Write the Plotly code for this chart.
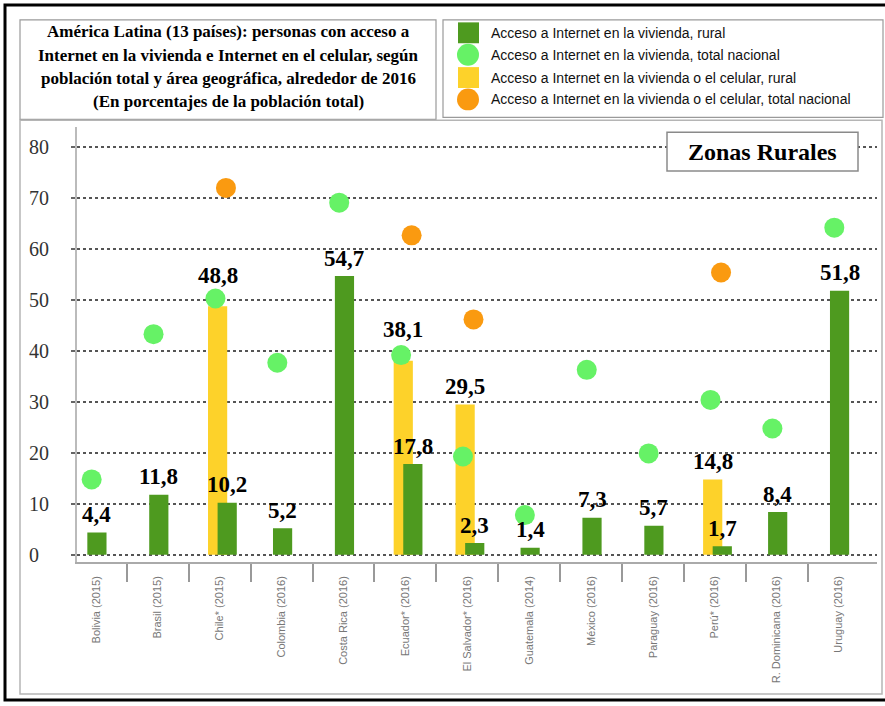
import plotly.graph_objects as go

# ---------------- data ----------------
countries = ["Bolivia (2015)", "Brasil (2015)", "Chile* (2015)", "Colombia (2016)",
             "Costa Rica (2016)", "Ecuador* (2016)", "El Salvador* (2016)",
             "Guatemala (2014)", "México (2016)", "Paraguay (2016)", "Perú* (2016)",
             "R. Dominicana (2016)", "Uruguay (2016)"]
rural_home = [4.4, 11.8, 10.2, 5.2, 54.7, 17.8, 2.3, 1.4, 7.3, 5.7, 1.7, 8.4, 51.8]
rural_home_mobile = [None, None, 48.8, None, None, 38.1, 29.5, None, None, None, 14.8, None, None]
national_home = [14.8, 43.3, 50.3, 37.7, 69.1, 39.2, 19.3, 7.8, 36.3, 19.9, 30.4, 24.8, 64.2]
national_home_mobile = [None, None, 72.0, None, None, 62.7, 46.2, None, None, None, 55.4, None, None]

series_names = ["Acceso a Internet en la vivienda, rural",
                "Acceso a Internet en la vivienda, total nacional",
                "Acceso a Internet en la vivienda o el celular, rural",
                "Acceso a Internet en la vivienda o el celular, total nacional"]
y_tick_values = [0, 10, 20, 30, 40, 50, 60, 70, 80]
y_tick_labels = ["0\u2007", "10", "20", "30", "40", "50", "60", "70", "80"]
title_lines = ["América Latina (13 países): personas con acceso a",
               "Internet en la vivienda e Internet en el celular, según",
               "población total y área geográfica, alrededor de 2016",
               "(En porcentajes de la población total)"]
panel_label = "Zonas Rurales"

# ---------------- style ----------------
W, H = 885, 706
C_GREEN_BAR = "#4E9A1F"
C_YELLOW = "#FDD22A"
C_LIGHT_GREEN = "#66F266"
C_ORANGE = "#FA9A10"
BAR_W = 0.31
SERIF = "Liberation Serif, Times New Roman, serif"
SANS = "Liberation Sans, Arial, sans-serif"


def px(x):
    return x / W


def py(y):
    return 1 - y / H


xs = list(range(len(countries)))
has_pair = [v is not None for v in rural_home_mobile]
green_off = [-0.035 if p else -0.14 for p in has_pair]
yellow_off = [-0.19] * len(xs)

fig = go.Figure()

fig.add_trace(go.Bar(x=xs, y=rural_home_mobile, name=series_names[2], width=BAR_W,
                     offset=yellow_off, marker=dict(color=C_YELLOW, line=dict(width=0)),
                     showlegend=False))
fig.add_trace(go.Bar(x=xs, y=rural_home, name=series_names[0], width=BAR_W,
                     offset=green_off, marker=dict(color=C_GREEN_BAR, line=dict(width=0)),
                     showlegend=False))
fig.add_trace(go.Scatter(x=[i - 0.07 for i in xs], y=national_home, mode="markers",
                         name=series_names[1],
                         marker=dict(size=20, color=C_LIGHT_GREEN, line=dict(width=0)),
                         showlegend=False))
fig.add_trace(go.Scatter(x=[i + 0.1 for i in xs], y=national_home_mobile, mode="markers",
                         name=series_names[3],
                         marker=dict(size=20, color=C_ORANGE, line=dict(width=0)),
                         showlegend=False))

annotations = []


def fmt(v):
    return f"{v:.1f}".replace(".", ",")


for i in xs:
    circ = national_home[i]
    for vals, offs in ((rural_home_mobile, yellow_off), (rural_home, green_off)):
        v = vals[i]
        if v is None:
            continue
        raised = circ is not None and 0 <= circ - v <= 6
        annotations.append(dict(x=i + offs[i] + BAR_W / 2, y=v, xref="x", yref="y",
                                text=f"<b>{fmt(v)}</b>", showarrow=False, yanchor="middle",
                                yshift=31 if raised else 18,
                                font=dict(family=SERIF, size=23, color="#000")))

# title lines
for k, line in enumerate(title_lines):
    annotations.append(dict(x=px(228), y=py(32 + k * 23.5), xref="paper", yref="paper",
                            text=f"<b>{line}</b>", showarrow=False,
                            xanchor="center", yanchor="middle",
                            font=dict(family=SERIF, size=17, color="#000")))

# legend (manual)
leg_rows = [33, 55, 78, 100]
leg_kind = ["square", "circle", "square", "circle"]
leg_color = [C_GREEN_BAR, C_LIGHT_GREEN, C_YELLOW, C_ORANGE]
shapes = []
for yy, kind, col, name in zip(leg_rows, leg_kind, leg_color, series_names):
    if kind == "square":
        shapes.append(dict(type="rect", xref="paper", yref="paper",
                           x0=px(458), x1=px(479), y0=py(yy - 10.5), y1=py(yy + 10.5),
                           fillcolor=col, line=dict(width=0)))
    else:
        shapes.append(dict(type="circle", xref="paper", yref="paper",
                           x0=px(457), x1=px(479), y0=py(yy - 11), y1=py(yy + 11),
                           fillcolor=col, line=dict(width=0)))
    annotations.append(dict(x=px(489), y=py(yy), xref="paper", yref="paper",
                            text=name, showarrow=False, xanchor="left", yanchor="middle",
                            font=dict(family=SANS, size=14, color="#111")))

# frames
GRAY = "#9a9a9a"
shapes += [
    dict(type="rect", xref="paper", yref="paper", x0=px(20), x1=px(436), y0=py(20), y1=py(120),
         line=dict(color=GRAY, width=1.2), layer="below"),
    dict(type="rect", xref="paper", yref="paper", x0=px(443), x1=px(883), y0=py(20), y1=py(118),
         line=dict(color=GRAY, width=1.2), layer="below"),
    dict(type="rect", xref="paper", yref="paper", x0=px(20), x1=px(882), y0=py(121), y1=py(698),
         line=dict(color="#b5b5b5", width=1.5), layer="below"),
    dict(type="rect", xref="paper", yref="paper", x0=px(5), x1=px(887), y0=py(5), y1=py(704),
         line=dict(color="#000", width=3)),
    dict(type="rect", xref="paper", yref="paper", x0=px(667), x1=px(858), y0=py(133), y1=py(172),
         line=dict(color="#8a8a8a", width=1.5), fillcolor="#fff"),
]
annotations.append(dict(x=px(762), y=py(153), xref="paper", yref="paper",
                        text=f"<b>{panel_label}</b>", showarrow=False,
                        xanchor="center", yanchor="middle",
                        font=dict(family=SERIF, size=24, color="#000")))

fig.update_layout(
    width=W, height=H, autosize=False,
    margin=dict(l=0, r=0, t=0, b=0),
    paper_bgcolor="#fff", plot_bgcolor="#fff",
    barmode="overlay",
    shapes=shapes, annotations=annotations,
    xaxis=dict(domain=[px(77), px(877)], range=[-0.307, 12.62],
               tickmode="array", tickvals=xs, ticktext=countries, tickangle=-90,
               ticks="", ticklabelstandoff=8,
               tickfont=dict(family=SANS, size=11, color="#777"),
               showline=True, linecolor="#aaa", linewidth=2,
               showgrid=False, zeroline=False,
               minor=dict(tickmode="array", tickvals=[i + 0.5 for i in xs[:-1]],
                          ticks="outside", ticklen=18, tickwidth=2, tickcolor="#999",
                          showgrid=False)),
    yaxis=dict(domain=[py(565), py(128)], range=[-1.366, 83.9],
               tickmode="array", tickvals=y_tick_values, ticktext=y_tick_labels,
               tickfont=dict(family=SERIF, size=20, color="#333"),
               ticks="outside", ticklen=4, tickwidth=2, tickcolor="#666",
               ticklabelstandoff=18,
               showline=True, linecolor="#bbb", linewidth=2,
               showgrid=True, gridcolor="#555", gridwidth=2, griddash="dot",
               zeroline=False),
)

fig.write_html("out.html")
